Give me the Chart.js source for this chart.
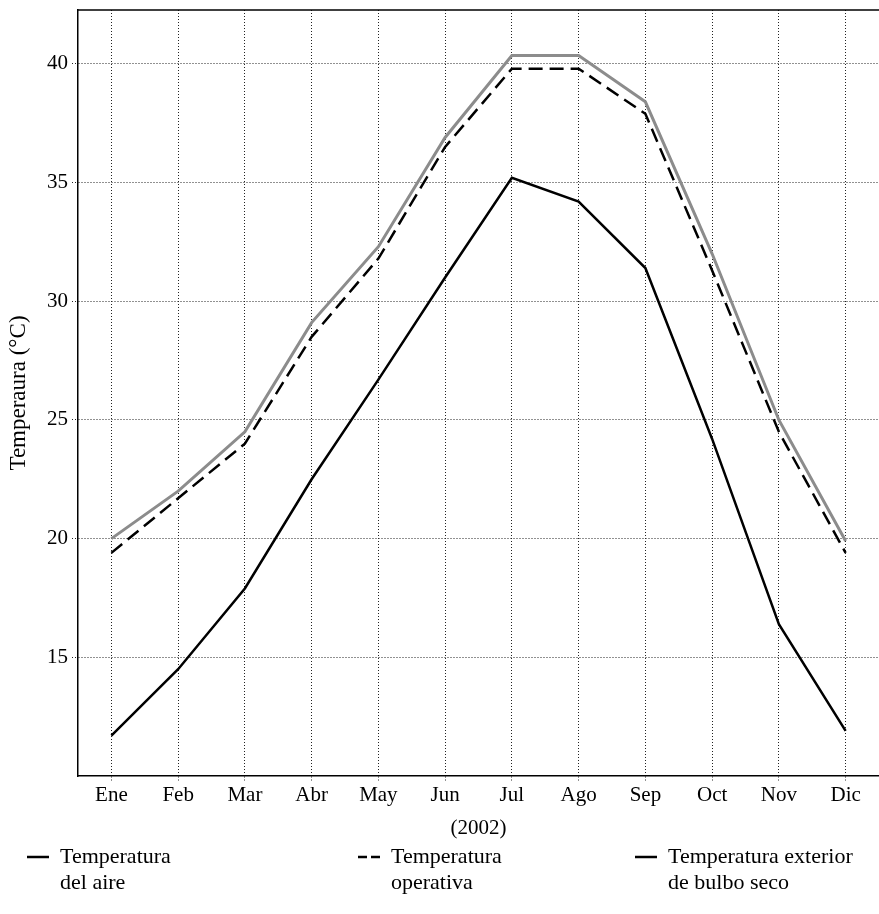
<!DOCTYPE html>
<html>
<head>
<meta charset="utf-8">
<script src="https://cdn.jsdelivr.net/npm/chart.js@4/dist/chart.umd.min.js"></script>
<style>
  html, body { margin: 0; padding: 0; background: #fff; }
  #wrap { width: 879px; height: 914px; }
</style>
</head>
<body>
<div id="wrap"><canvas id="myChart" width="879" height="914"></canvas></div>
<script>
const months = ["Ene", "Feb", "Mar", "Abr", "May", "Jun", "Jul", "Ago", "Sep", "Oct", "Nov", "Dic"];
const tempAire = [20.0, 22.0, 24.5, 29.1, 32.3, 36.9, 40.35, 40.35, 38.4, 32.0, 25.0, 19.9];
const tempOperativa = [19.4, 21.7, 24.0, 28.5, 31.8, 36.5, 39.8, 39.8, 37.9, 31.3, 24.5, 19.4];
const tempExterior = [11.7, 14.5, 17.9, 22.5, 26.7, 31.0, 35.2, 34.2, 31.4, 24.2, 16.4, 11.9];
const yTicks = [15, 20, 25, 30, 35, 40];
const legendText = [
	["Temperatura", "del aire"],
	["Temperatura", "operativa"],
	["Temperatura exterior", "de bulbo seco"],
];

const FONT = "'Liberation Serif', 'DejaVu Serif', serif";
const gridDots = { color: "#222", lineWidth: 1, tickLength: 6, tickBorderDash: [1, 2], tickColor: "#222" };

// top frame line + two-line legend under the axis
const frameLegend = {
	id: "frameLegend",
	afterDraw(chart) {
		const { ctx, chartArea } = chart;
		ctx.save();
		ctx.strokeStyle = "#000";
		ctx.lineWidth = 1.5;
		ctx.beginPath();
		ctx.moveTo(chartArea.left, chartArea.top);
		ctx.lineTo(chartArea.right, chartArea.top);
		ctx.stroke();

		const slots = [27, 358, 635];
		ctx.font = "22px " + FONT;
		ctx.textBaseline = "middle";
		ctx.fillStyle = "#000";
		chart.data.datasets.forEach((ds, i) => {
			const x = slots[i];
			ctx.strokeStyle = "#000";
			ctx.lineWidth = 2.5;
			ctx.setLineDash(ds.borderDash ? [9, 4] : []);
			ctx.beginPath();
			ctx.moveTo(x, 857);
			ctx.lineTo(x + 22, 857);
			ctx.stroke();
			ctx.setLineDash([]);
			legendText[i].forEach((t, j) => ctx.fillText(t, x + 33, 857 + j * 26));
		});
		ctx.restore();
	},
};

const config = {
	type: "line",
	data: {
		labels: months,
		datasets: [
			{
				label: "Temperatura del aire",
				data: tempAire,
				borderColor: "#8c8c8c",
				borderWidth: 3,
			},
			{
				label: "Temperatura operativa",
				data: tempOperativa,
				borderColor: "#000",
				borderWidth: 2.5,
				borderDash: [14, 7],
			},
			{
				label: "Temperatura exterior de bulbo seco",
				data: tempExterior,
				borderColor: "#000",
				borderWidth: 2.5,
			},
		],
	},
	options: {
		responsive: false,
		animation: false,
		layout: { padding: { top: 10, right: 0, left: 0, bottom: 73 } },
		elements: { point: { radius: 0 }, line: { tension: 0 } },
		plugins: { legend: { display: false }, tooltip: { enabled: false } },
		scales: {
			x: {
				offset: true,
				afterFit: scale => { scale.height = 65; },
				grid: { ...gridDots, tickLength: 5 },
				border: { color: "#000", width: 1.5, dash: [1, 2] },
				ticks: { color: "#000", padding: 2, font: { family: FONT, size: 21 } },
				title: { display: true, text: "(2002)", color: "#000", padding: 0, font: { family: FONT, size: 21 } },
			},
			y: {
				min: 10,
				max: 42.27,
				afterBuildTicks: axis => { axis.ticks = yTicks.map(v => ({ value: v })); },
				afterFit: scale => {
					scale.width = 78;
					scale.paddingTop = 0;
					scale.paddingBottom = 0;
				},
				grid: gridDots,
				border: { color: "#000", width: 1.5, dash: [1, 2] },
				ticks: { color: "#000", padding: 4, font: { family: FONT, size: 21 } },
				title: {
					display: true,
					text: "Temperaura (°C)",
					color: "#000",
					padding: { top: 5, bottom: 0 },
					font: { family: FONT, size: 23 },
				},
			},
		},
	},
	plugins: [frameLegend],
};

new Chart(document.getElementById("myChart"), config);
</script>
</body>
</html>
